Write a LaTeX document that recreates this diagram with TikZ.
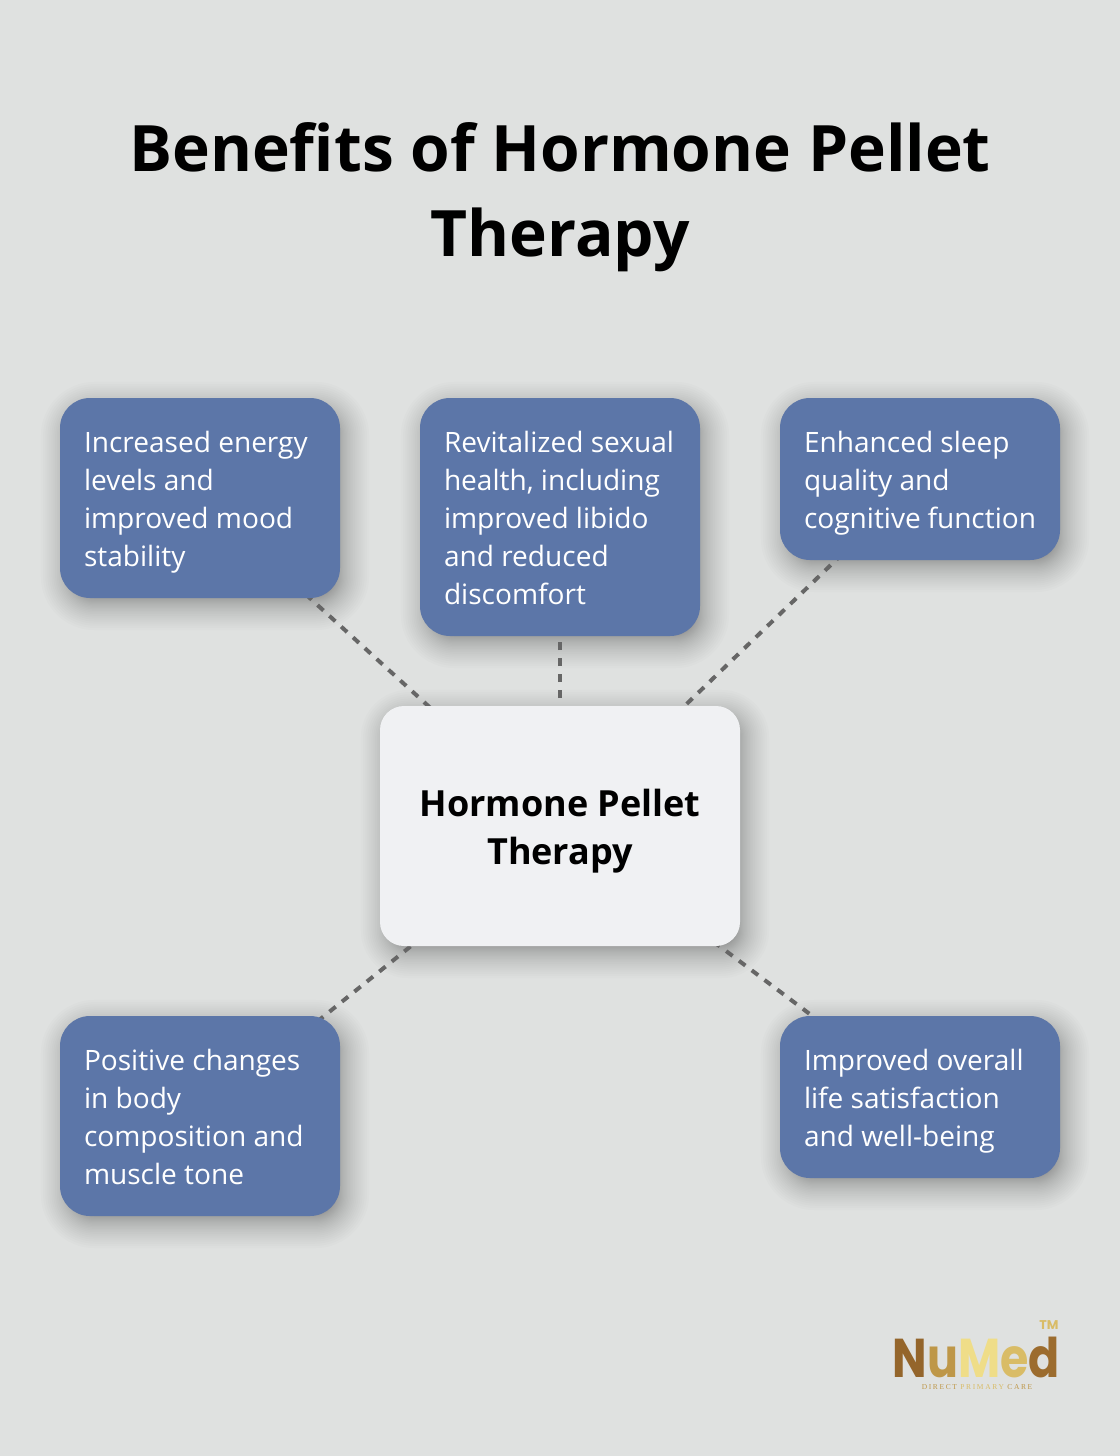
\documentclass[tikz,border=0pt]{standalone}
\usepackage{fontspec}
\setmainfont{Open Sans}
\newfontfamily\logofont{Poppins}
\newfontfamily\logoserif{Liberation Serif}
\usetikzlibrary{calc}
\definecolor{paper}{HTML}{DFE1E0}
\definecolor{benefitblue}{HTML}{5C76A8}
\definecolor{corewhite}{HTML}{F0F1F3}
\definecolor{linkgray}{HTML}{666666}
\definecolor{goldA}{HTML}{94652B}
\definecolor{goldB}{HTML}{BE9748}
\definecolor{goldC}{HTML}{EFDD88}
\definecolor{goldD}{HTML}{D9BC66}
\definecolor{goldE}{HTML}{9C6C2E}
\newcommand{\benefittext}[1]{\parbox{174pt}{\rule{0pt}{26pt}#1\strut}}
\pgfdeclarelayer{shadow}
\pgfdeclarelayer{link}
\pgfsetlayers{shadow,link,main}
\begin{document}
\begin{tikzpicture}[x=0.75pt,y=-0.75pt,
    benefit/.style={fill=benefitblue, text=white, rounded corners=22.5pt, minimum width=210pt, align=left, inner xsep=18pt, inner ysep=0pt, anchor=center, font=\fontsize{21.05}{28.5}\selectfont},
    core/.style={fill=corewhite, text=black, rounded corners=18pt, minimum width=270pt, minimum height=180pt, align=center, font=\fontsize{27}{36}\selectfont\bfseries},
    link/.style={linkgray, line width=3pt, dash pattern=on 6pt off 6pt}]
    \useasboundingbox (0,0) rectangle (1120,1456);
    \node[font=\fontsize{48}{63.75}\selectfont\bfseries, align=center] (title) at (560,197) {Benefits of Hormone Pellet\\Therapy};
    \node[core] (therapy) at (560,826) {\parbox{260pt}{\centering\rule{0pt}{32.7pt}Hormone Pellet\\Therapy\strut}};
    \node[benefit, minimum height=150pt] (energy) at (200,498) {\benefittext{Increased energy\\levels and\\improved mood\\stability}};
    \node[benefit, minimum height=178.5pt] (sexual) at (560,517) {\benefittext{Revitalized sexual\\health, including\\improved libido\\and reduced\\discomfort}};
    \node[benefit, minimum height=121.5pt] (sleep) at (920,479) {\benefittext{Enhanced sleep\\quality and\\cognitive function}};
    \node[benefit, minimum height=150pt] (body) at (200,1116) {\benefittext{Positive changes\\in body\\composition and\\muscle tone}};
    \node[benefit, minimum height=121.5pt] (life) at (920,1097) {\benefittext{Improved overall\\life satisfaction\\and well-being}};
    \node[font=\logofont\fontsize{41}{41}\selectfont\bfseries, inner sep=0pt] (logo) at (976.5,1357) {\scalebox{0.84}[1]{\textcolor{goldA}{N}\textcolor{goldB}{u}\textcolor{goldC}{M}\textcolor{goldD}{e}\textcolor{goldE}{d}}};
    \node[font=\logofont\fontsize{9.5}{10}\selectfont\bfseries, text=goldD] (tm) at (1049,1325) {TM};
    \node[font=\logoserif\fontsize{5.6}{6}\selectfont, inner sep=0pt] (tagline) at (977,1387) {\addfontfeature{LetterSpace=22}\textcolor{goldB}{DIRECT} \textcolor{goldD}{PRIMARY} \textcolor{goldB}{CARE}};
    \begin{pgfonlayer}{link}
        \foreach \b in {energy,sexual,sleep,body,life}
        \draw[link] (therapy.center)--(\b.center);
    \end{pgfonlayer}
    \begin{pgfonlayer}{shadow}
        \fill[paper] (0,0) rectangle (1120,1456);
        \foreach \b/\r in {energy/30,sexual/30,sleep/30,body/30,life/30,therapy/24}
        \foreach \i in {0,...,29}{
        \pgfmathsetmacro{\e}{-10+34*(\i/29)*(\i/29)}
        \pgfmathsetmacro{\c}{(\r+\e)*0.75}
        \fill[black, opacity=0.0105, rounded corners=\c pt] ($(\b.north west)+(5-\e,8-\e)$) rectangle ($(\b.south east)+(5+\e,8+\e)$);
        }
    \end{pgfonlayer}
\end{tikzpicture}
\end{document}
